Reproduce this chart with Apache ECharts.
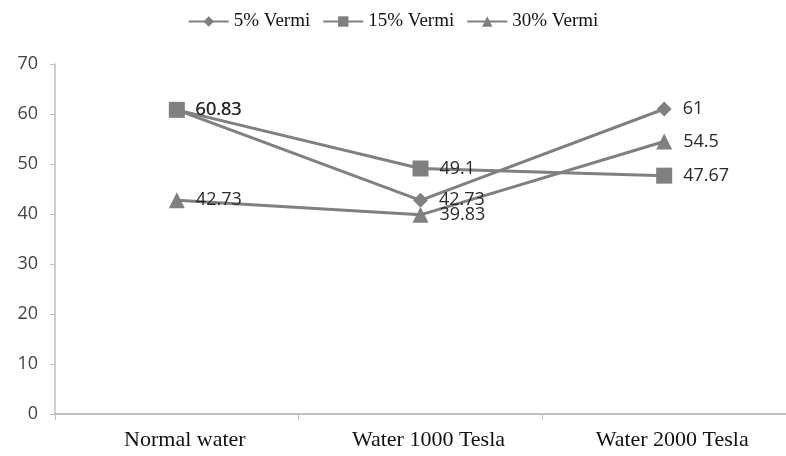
<!DOCTYPE html>
<html><head><meta charset="utf-8">
<script src="https://cdn.jsdelivr.net/npm/echarts@6/dist/echarts.min.js"></script>
<style>html,body{margin:0;padding:0;background:#fff}#c{width:786px;height:456px}</style>
</head><body><div id="c"></div>
<script>
const categories = ["Normal water", "Water 1000 Tesla", "Water 2000 Tesla"];
const seriesNames = ["5% Vermi", "15% Vermi", "30% Vermi"];
const vermi5 = [60.83, 42.73, 61];
const vermi15 = [60.83, 49.1, 47.67];
const vermi30 = [42.73, 39.83, 54.5];
const yTicks = { min: 0, max: 70, interval: 10 };

const symbols = ["diamond", "rect", "triangle"];
const sizes = [15, 16, 16];
const dataSets = [vermi5, vermi15, vermi30];
const chart = echarts.init(document.getElementById('c'), null, { renderer: 'canvas' });
chart.setOption({
  animation: false,
  backgroundColor: '#fff',
  legend: {
    top: 7, left: 'center',
    itemWidth: 40, itemHeight: 13, itemGap: 12,
    textStyle: { fontFamily: 'Liberation Serif', fontSize: 19, color: '#111' },
    data: seriesNames
  },
  grid: { left: 55, right: -7, top: 64, bottom: 42, containLabel: false },
  xAxis: {
    type: 'category', data: categories, boundaryGap: true,
    axisLine: { lineStyle: { color: '#bfbfbf', width: 2 } },
    axisTick: { show: true, length: 6, lineStyle: { color: '#bfbfbf' } },
    axisLabel: { fontFamily: 'Liberation Serif', fontSize: 22, color: '#111', margin: 15, padding: [0, 0, 0, 16] }
  },
  yAxis: {
    type: 'value', min: yTicks.min, max: yTicks.max, interval: yTicks.interval,
    axisLine: { show: true, lineStyle: { color: '#bfbfbf', width: 1.5 } },
    axisTick: { show: true, length: 5, lineStyle: { color: '#bfbfbf' } },
    splitLine: { show: false },
    axisLabel: { fontFamily: 'Open Sans', fontSize: 18, color: '#444', margin: 17 }
  },
  series: seriesNames.map((n, i) => ({
    name: n, type: 'line', data: dataSets[i],
    symbol: symbols[i], symbolSize: sizes[i], showAllSymbol: true,
    lineStyle: { color: '#808080', width: 3 },
    itemStyle: { color: '#808080' },
    label: {
      show: true, position: 'right', distance: 11,
      fontFamily: 'Open Sans', fontSize: 18, color: '#2a2a2a',
      formatter: p => String(p.value)
    },
    z: 3 - i
  }))
});
</script></body></html>
